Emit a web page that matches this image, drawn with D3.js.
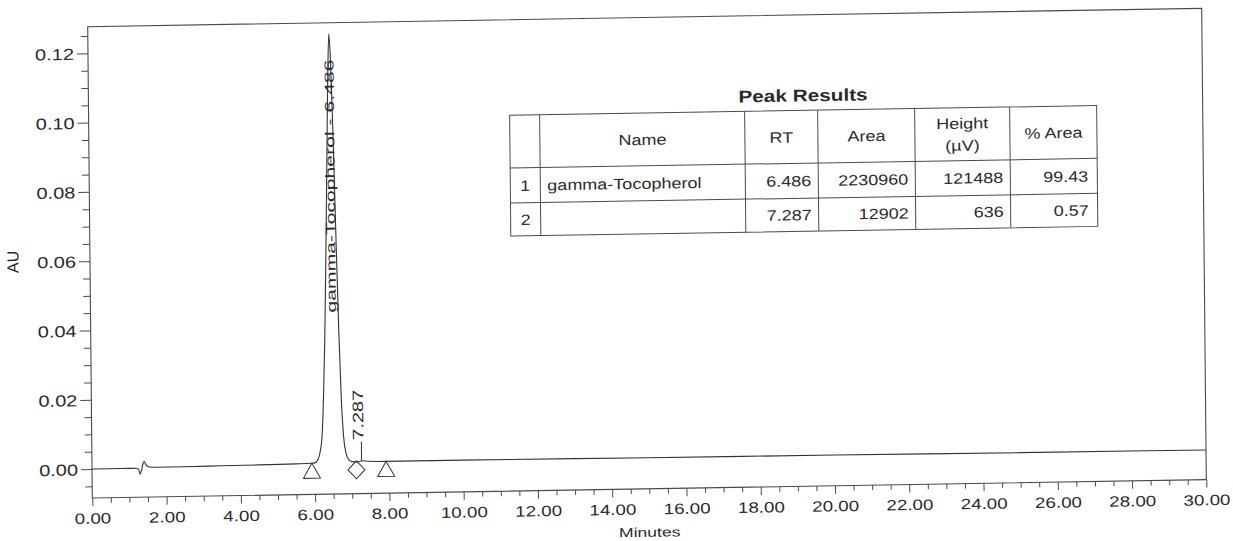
<!DOCTYPE html>
<html>
<head>
<meta charset="utf-8">
<script src="https://cdn.jsdelivr.net/npm/d3@7/dist/d3.min.js"></script>
<style>
  html, body { margin: 0; padding: 0; background: #fff; }
  svg { display: block; font-family: "Liberation Sans", Arial, sans-serif; }
</style>
</head>
<body>
<svg id="chart" width="1233" height="541"></svg>
<script>
// ---------------- data ----------------
const traceTime = [0.00, 0.50, 1.00, 1.20, 1.26, 1.29, 1.33, 1.37, 1.41, 1.45, 1.52, 1.70, 2.50, 3.50, 4.50, 5.50, 5.90,
  6.00, 6.10, 6.15, 6.20, 6.25, 6.30, 6.35, 6.40, 6.45, 6.49, 6.53, 6.58, 6.63, 6.68, 6.73, 6.78, 6.84, 6.92, 7.00,
  7.15, 7.287, 7.45, 7.90, 10.0, 15.0, 20.0, 25.0, 30.0];
const traceAU = [0.0000, 0.0000, 0.0000, 0.0000, -0.0004, -0.0017, -0.0008, 0.0012, 0.0019, 0.0010, 0.0004, 0.0002, 0.0002, 0.0003, 0.0004, 0.0005, 0.0006,
  0.0007, 0.0020, 0.0040, 0.0080, 0.0190, 0.0360, 0.0590, 0.0860, 0.1120, 0.1245, 0.1160, 0.0930, 0.0650, 0.0390, 0.0190, 0.0085, 0.0035, 0.0014, 0.0009,
  0.0008, 0.0011, 0.0009, 0.0008, 0.0008, 0.0006, 0.0005, 0.0003, 0.0002];

const markerTimes = [5.92, 7.12, 7.92];
const markerShapes = ["triangle", "diamond", "triangle"];

const peakLabelTimes = [6.486, 7.287];
const peakLabels = ["gamma-Tocopherol - 6.486", "7.287"];

const yMajorTicks = [0.00, 0.02, 0.04, 0.06, 0.08, 0.10, 0.12];
const yMinorTicks = [-0.005, 0.005, 0.010, 0.015, 0.025, 0.030, 0.035, 0.045, 0.050, 0.055, 0.065, 0.070, 0.075, 0.085, 0.090, 0.095, 0.105, 0.110, 0.115, 0.125];
const xMajorTicks = [0, 2, 4, 6, 8, 10, 12, 14, 16, 18, 20, 22, 24, 26, 28, 30];
const xMinorTicks = d3.range(0, 30.01, 0.5).filter(v => Math.abs(v % 2) > 0.01);

const yLabel = "AU";
const xLabel = "Minutes";

const tableTitle = "Peak Results";
const tableHeader = ["", "Name", "RT", "Area", "Height|(µV)", "% Area"];
const peakIndex = ["1", "2"];
const peakNames = ["gamma-Tocopherol", ""];
const peakRT = ["6.486", "7.287"];
const peakArea = ["2230960", "12902"];
const peakHeight = ["121488", "636"];
const peakPctArea = ["99.43", "0.57"];

// ---------------- layout ----------------
const W = 1114, H = 471.3;
const svg = d3.select("#chart");
svg.append("rect").attr("width", 1233).attr("height", 541).attr("fill", "#fff");

// scanned page is slightly rotated/skewed
const g = svg.append("g").attr("transform", "matrix(1,-0.0165,0.00976,1,87.7,26.7)");

const x = d3.scaleLinear().domain([0, 30]).range([0, W]);
const y = d3.scaleLinear().domain([-0.00837, 0.12768]).range([H, 0]);

const ink = "#2a2a2a";
const lineCol = "#4a4a4a";

function stretch(sel, k) {
  sel.each(function () {
    const L = this.getComputedTextLength();
    this.setAttribute("textLength", L * k);
    this.setAttribute("lengthAdjust", "spacingAndGlyphs");
  });
}

// frame
g.append("rect").attr("x", 0).attr("y", 0).attr("width", W).attr("height", H)
  .attr("fill", "none").attr("stroke", lineCol).attr("stroke-width", 1.1);

// y axis
const yMajor = g.append("g").call(d3.axisLeft(y).tickValues(yMajorTicks).tickSize(11).tickPadding(3).tickFormat(d3.format(".2f")));
const yMinor = g.append("g").call(d3.axisLeft(y).tickValues(yMinorTicks).tickSize(7).tickFormat(""));
[yMajor, yMinor].forEach(a => { a.select(".domain").remove(); a.selectAll("line").attr("stroke", lineCol); });
yMajor.selectAll("text").attr("fill", ink).style("font-size", "16px").attr("dy", "0.36em");
stretch(yMajor.selectAll("text"), 1.25);

// x axis
const xMajor = g.append("g").attr("transform", `translate(0,${H})`)
  .call(d3.axisBottom(x).tickValues(xMajorTicks).tickSize(8).tickPadding(7).tickFormat(d3.format(".2f")));
const xMinor = g.append("g").attr("transform", `translate(0,${H})`)
  .call(d3.axisBottom(x).tickValues(xMinorTicks).tickSize(5).tickFormat(""));
[xMajor, xMinor].forEach(a => { a.select(".domain").remove(); a.selectAll("line").attr("stroke", lineCol); });
xMajor.selectAll("text").attr("fill", ink).style("font-size", "15px");
stretch(xMajor.selectAll("text"), 1.25);

// axis titles
const xt = g.append("text").attr("x", W / 2).attr("y", H + 48).attr("text-anchor", "middle")
  .attr("fill", ink).style("font-size", "13px").text(xLabel);
stretch(xt, 1.35);
g.append("text").attr("transform", `translate(-77,234) rotate(-90)`).attr("text-anchor", "middle")
  .attr("dominant-baseline", "central").attr("fill", ink).style("font-size", "16px").text(yLabel);

// trace
const pts = traceTime.map((t, i) => [t, traceAU[i]]);
g.append("path").datum(pts)
  .attr("fill", "none").attr("stroke", "#333").attr("stroke-width", 1.1)
  .attr("d", d3.line().x(d => x(d[0])).y(d => y(d[1])).curve(d3.curveMonotoneX));

const interpAU = t => {
  const i = d3.bisectLeft(traceTime, t);
  if (i <= 0) return traceAU[0];
  const t0 = traceTime[i - 1], t1 = traceTime[i];
  return traceAU[i - 1] + (traceAU[i] - traceAU[i - 1]) * (t - t0) / (t1 - t0);
};

// markers
markerTimes.forEach((t, i) => {
  const cx = x(t), cy = y(interpAU(t));
  const p = markerShapes[i] === "triangle"
    ? `M${cx},${cy} L${cx + 8.5},${cy + 15} L${cx - 8.5},${cy + 15} Z`
    : `M${cx},${cy - 1} L${cx + 8.5},${cy + 8} L${cx},${cy + 17} L${cx - 8.5},${cy + 8} Z`;
  g.append("path").attr("d", p).attr("fill", "none").attr("stroke", "#333").attr("stroke-width", 1);
});

// peak labels
{
  const t = peakLabelTimes[0];
  const lab = g.append("text")
    .attr("transform", `translate(${x(t) + 4.5},${y(0.044)}) rotate(-90)`)
    .attr("fill", ink).style("font-size", "13px").text(peakLabels[0]);
  lab.attr("textLength", 253).attr("lengthAdjust", "spacingAndGlyphs");
}
{
  const t = peakLabelTimes[1];
  const yb = y(interpAU(t));
  g.append("line").attr("x1", x(t) - 1).attr("x2", x(t) - 1).attr("y1", yb).attr("y2", yb - 19)
    .attr("stroke", "#333").attr("stroke-width", 1);
  g.append("text")
    .attr("transform", `translate(${x(t) + 1},${yb - 21}) rotate(-90)`)
    .attr("fill", ink).style("font-size", "15px").text(peakLabels[1])
    .attr("textLength", 50).attr("lengthAdjust", "spacingAndGlyphs");
}

// table
const colX = [421, 451, 656, 729, 826, 921, 1008];
const rowY = [95.5, 148.3, 183.3, 216.3];
const tg = g.append("g");
tg.append("rect").attr("x", colX[0]).attr("y", rowY[0]).attr("width", colX[6] - colX[0]).attr("height", rowY[3] - rowY[0])
  .attr("fill", "none").attr("stroke", lineCol).attr("stroke-width", 1);
colX.slice(1, 6).forEach(cx => tg.append("line").attr("x1", cx).attr("x2", cx).attr("y1", rowY[0]).attr("y2", rowY[3]).attr("stroke", lineCol));
rowY.slice(1, 3).forEach(ry => tg.append("line").attr("x1", colX[0]).attr("x2", colX[6]).attr("y1", ry).attr("y2", ry).attr("stroke", lineCol));

const tt = tg.append("text").attr("x", (colX[0] + colX[6]) / 2).attr("y", rowY[0] - 14.5)
  .attr("text-anchor", "middle").attr("dominant-baseline", "central")
  .attr("fill", ink).style("font-size", "17px").style("font-weight", "bold").text(tableTitle);
stretch(tt, 1.22);

const cellTexts = [];
tableHeader.forEach((h, i) => {
  const cx = (colX[i] + colX[i + 1]) / 2, cy = (rowY[0] + rowY[1]) / 2;
  const parts = h.split("|");
  parts.forEach((p, j) => {
    const off = parts.length === 1 ? 0 : (j === 0 ? -11 : 11);
    cellTexts.push(tg.append("text").attr("x", cx).attr("y", cy + off).attr("text-anchor", "middle").text(p));
  });
});
const rowCols = [peakIndex, peakNames, peakRT, peakArea, peakHeight, peakPctArea];
peakIndex.forEach((_, r) => {
  const cy = (rowY[r + 1] + rowY[r + 2]) / 2;
  rowCols.forEach((col, c) => {
    const v = col[r];
    if (!v) return;
    let tx, anchor;
    if (c === 0) { tx = (colX[0] + colX[1]) / 2; anchor = "middle"; }
    else if (c === 1) { tx = colX[1] + 7; anchor = "start"; }
    else { tx = colX[c + 1] - (c === 5 ? 9 : 7); anchor = "end"; }
    cellTexts.push(tg.append("text").attr("x", tx).attr("y", cy).attr("text-anchor", anchor).text(v));
  });
});
cellTexts.forEach(t => {
  t.attr("dominant-baseline", "central").attr("fill", ink).style("font-size", "15px");
  stretch(t, 1.2);
});
</script>
</body>
</html>
